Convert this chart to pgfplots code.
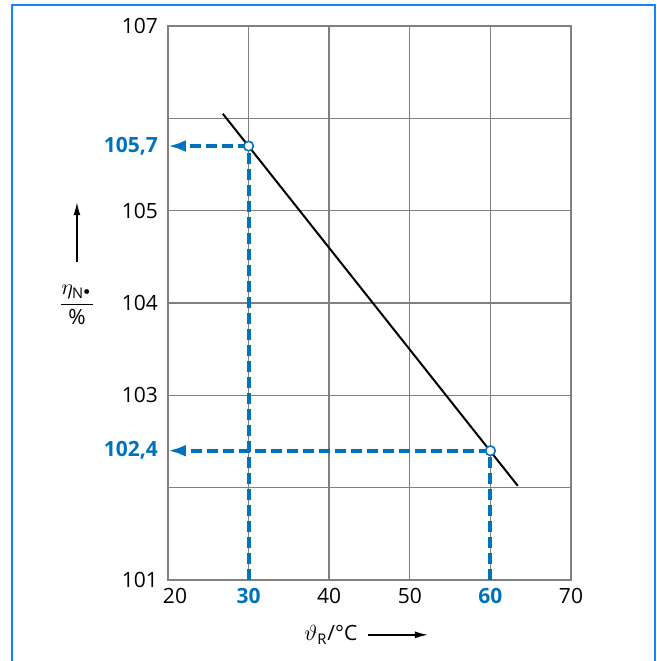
\documentclass[border=0pt]{standalone}
\usepackage{fontspec}
\setmainfont{Open Sans}
\usepackage{pgfplots}
\pgfplotsset{compat=1.18}
\usetikzlibrary{arrows.meta}
\definecolor{hlblue}{RGB}{0,114,188}
\definecolor{frameblue}{RGB}{20,130,250}
\definecolor{gridgray}{RGB}{128,128,128}

\begin{document}
\begin{tikzpicture}[x=1pt,y=1pt]
\draw[frameblue, line width=1pt] (6,-2) -- (6,328) -- (327.5,328) -- (327.5,-2);
\begin{axis}[
    at={(84pt,40.5pt)}, anchor=south west,
    scale only axis, width=201.5pt, height=277pt,
    xmin=20, xmax=70, ymin=101, ymax=107,
    clip=false,
    xtick={20,30,...,70},
    xticklabels={\hspace{7pt}20,\textcolor{hlblue}{\bfseries 30},40,50,\textcolor{hlblue}{\bfseries 60},70},
    ytick={101,102,...,107},
    yticklabels={101,,103,104,105,,107},
    extra y ticks={102.4,105.7},
    extra y tick labels={\textcolor{hlblue}{\bfseries 102,4},\textcolor{hlblue}{\bfseries 105,7}},
    extra y tick style={grid=none},
    grid=major,
    major grid style={draw=gridgray, line width=0.7pt},
    axis line style={draw=gridgray, line width=0.7pt},
    major tick length=0pt,
    tick style={draw=none},
    ticklabel style={font=\fontsize{10.5}{12}\selectfont},
    yticklabel style={xshift=-1.5pt},
    xticklabel style={yshift=-0.5pt},
  ]
  \addplot[black, line width=1pt] coordinates {(26.8,106.05) (63.4,102.02)};

  \addplot[hlblue, line width=2pt, dash pattern=on 5.5pt off 2.5pt] coordinates {(30,101) (30,105.7)};
  \addplot[hlblue, line width=2pt, dash pattern=on 5.5pt off 2.5pt, -{Latex[length=9pt,width=6pt]}] coordinates {(30,105.7) (20,105.7)};
  \addplot[hlblue, line width=2pt, dash pattern=on 5.5pt off 2.5pt] coordinates {(60,101) (60,102.4)};
  \addplot[hlblue, line width=2pt, dash pattern=on 5.5pt off 2.5pt, -{Latex[length=9pt,width=6pt]}] coordinates {(60,102.4) (20,102.4)};

  \addplot[only marks, mark=*, mark size=2.4pt, mark options={solid, draw=hlblue, fill=white, line width=0.8pt}] coordinates {(30,105.7) (60,102.4)};

  % y label with arrow
  \draw[-{Latex[length=6.5pt,width=3.5pt]}, line width=0.7pt] (axis description cs:-0.226,0.574) -- (axis description cs:-0.226,0.682);
  \node[font=\fontsize{10.5}{12}\selectfont] at (axis description cs:-0.226,0.496) {$\displaystyle\frac{\eta_{\mathrm{N}^{\bullet}}}{\textnormal{\%}}$};
  % x label with arrow
  \node[font=\fontsize{10.5}{12}\selectfont] at (axis description cs:0.404,-0.099) {$\vartheta_{\mathrm{R}}$/°C};
  \draw[-{Latex[length=6.5pt,width=3.5pt]}, line width=0.7pt] (axis description cs:0.496,-0.099) -- (axis description cs:0.645,-0.099);
\end{axis}
\pgfresetboundingbox
\useasboundingbox (0,0) rectangle (328.5,330.5);
\end{tikzpicture}
\end{document}
